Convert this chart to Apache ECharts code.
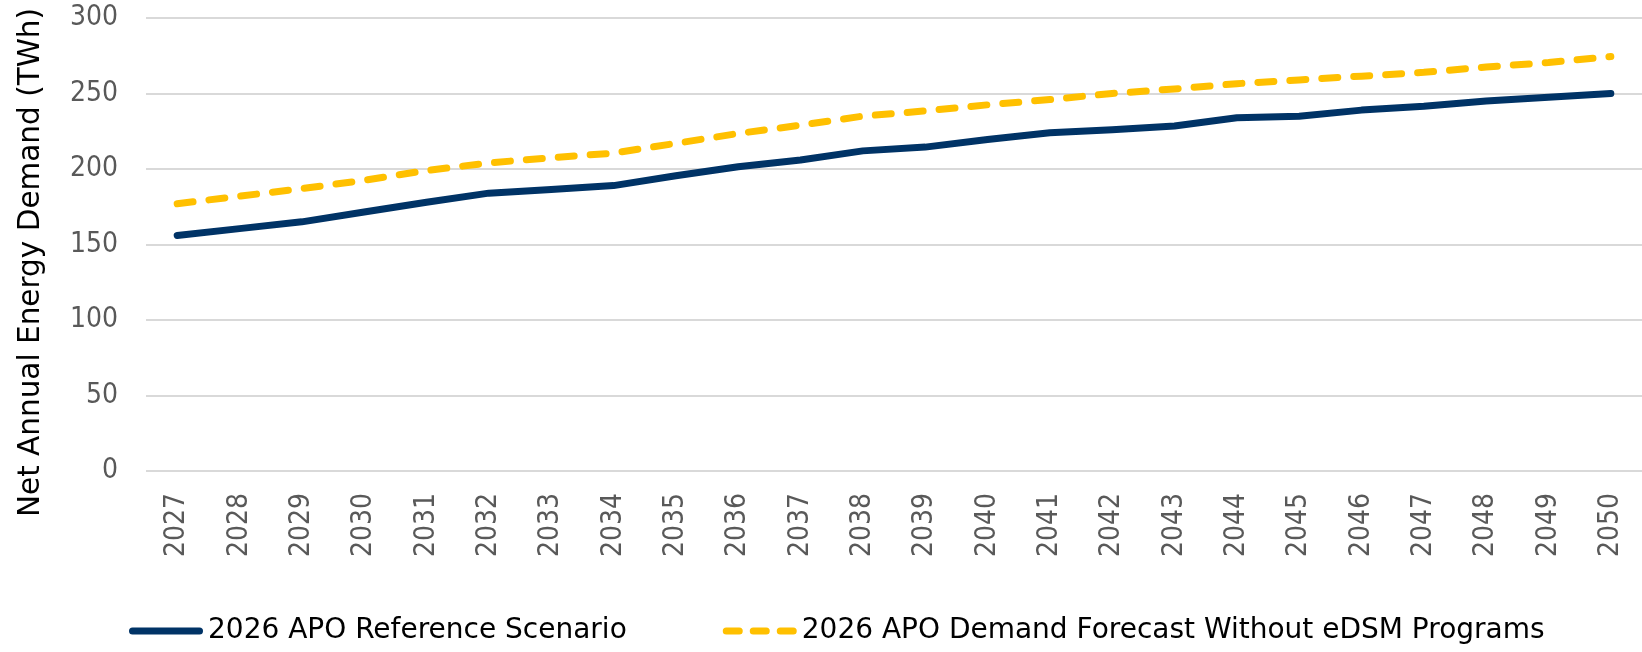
<!DOCTYPE html>
<html>
<head>
<meta charset="utf-8">
<script src="https://cdn.jsdelivr.net/npm/echarts@6/dist/echarts.min.js"></script>
<style>
  html, body { margin: 0; padding: 0; background: #fff; }
  #chart { width: 1642px; height: 652px; }
</style>
</head>
<body>
<div id="chart"></div>
<script>
// years on the x axis
const years = ['2027', '2028', '2029', '2030', '2031', '2032', '2033', '2034', '2035', '2036', '2037', '2038',
  '2039', '2040', '2041', '2042', '2043', '2044', '2045', '2046', '2047', '2048', '2049', '2050']

// TWh
const referenceScenario = [156, 160.5, 165, 171.5, 178, 184, 186.5, 189, 195.5, 201.5, 206, 212,
  214.5, 219.5, 224, 226, 228.5, 234, 235, 239, 241.5, 245, 247.5, 250]
const withoutEdsm = [177, 182, 187, 192.5, 199, 204, 207.5, 210.5, 217, 223.5, 229, 235,
  238.5, 242.5, 246, 250, 253, 256.5, 259, 261.5, 264, 267.5, 270.5, 274.5]

const seriesNames = ['2026 APO Reference Scenario', '2026 APO Demand Forecast Without eDSM Programs']

const FONT = '"DejaVu Sans Condensed", "Liberation Sans Narrow", "DejaVu Sans", sans-serif'
const WIDE_FONT = '"DejaVu Sans", sans-serif'

// legend icons: a thick rounded bar, and three rounded dashes
const solidIcon = 'path://M3.5,0 H70.5 A3.5,3.5 0 0 1 70.5,7 H3.5 A3.5,3.5 0 0 1 3.5,0 Z'
const dashIcon = 'path://M3.5,0 H16.5 A3.5,3.5 0 0 1 16.5,7 H3.5 A3.5,3.5 0 0 1 3.5,0 Z ' +
  'M30.5,0 H43.5 A3.5,3.5 0 0 1 43.5,7 H30.5 A3.5,3.5 0 0 1 30.5,0 Z ' +
  'M57.5,0 H70.5 A3.5,3.5 0 0 1 70.5,7 H57.5 A3.5,3.5 0 0 1 57.5,0 Z'

const chart = echarts.init(document.getElementById('chart'))

chart.setOption({
  animation: false,
  textStyle: { fontFamily: FONT },
  grid: {
    left: 146,
    top: 18,
    width: 1500,
    height: 453,
    containLabel: false
  },
  legend: {
    bottom: 2,
    left: 124,
    itemWidth: 74,
    itemHeight: 7,
    itemGap: 96,
    textStyle: {
      color: '#000',
      fontSize: 28,
      fontFamily: WIDE_FONT
    },
    data: [
      { name: seriesNames[0], icon: solidIcon },
      { name: seriesNames[1], icon: dashIcon }
    ]
  },
  xAxis: {
    type: 'category',
    data: years,
    boundaryGap: true,
    axisLine: { show: false },
    axisTick: { show: false },
    axisLabel: {
      rotate: 90,
      margin: 22,
      color: '#595959',
      fontSize: 28,
      fontFamily: FONT
    }
  },
  yAxis: {
    type: 'value',
    min: 0,
    max: 300,
    interval: 50,
    name: 'Net Annual Energy Demand (TWh)',
    nameLocation: 'middle',
    nameRotate: 90,
    nameGap: 100,
    nameTextStyle: {
      color: '#000',
      fontSize: 29.5,
      fontFamily: WIDE_FONT,
      padding: [0, 36, 0, 0]
    },
    axisLine: { show: false },
    axisTick: { show: false },
    axisLabel: {
      margin: 28,
      color: '#595959',
      fontSize: 28,
      fontFamily: FONT
    },
    splitLine: {
      show: true,
      lineStyle: {
        color: '#D9D9D9',
        width: 2
      }
    }
  },
  series: [
    {
      name: seriesNames[0],
      type: 'line',
      data: referenceScenario,
      symbol: 'none',
      lineStyle: {
        color: '#003366',
        width: 7,
        cap: 'round',
        join: 'round'
      },
      itemStyle: { color: '#003366' }
    },
    {
      name: seriesNames[1],
      type: 'line',
      data: withoutEdsm,
      symbol: 'none',
      lineStyle: {
        color: '#FFC000',
        width: 7,
        type: [16, 16],
        cap: 'round',
        join: 'round'
      },
      itemStyle: { color: '#FFC000' }
    }
  ]
})
</script>
</body>
</html>
